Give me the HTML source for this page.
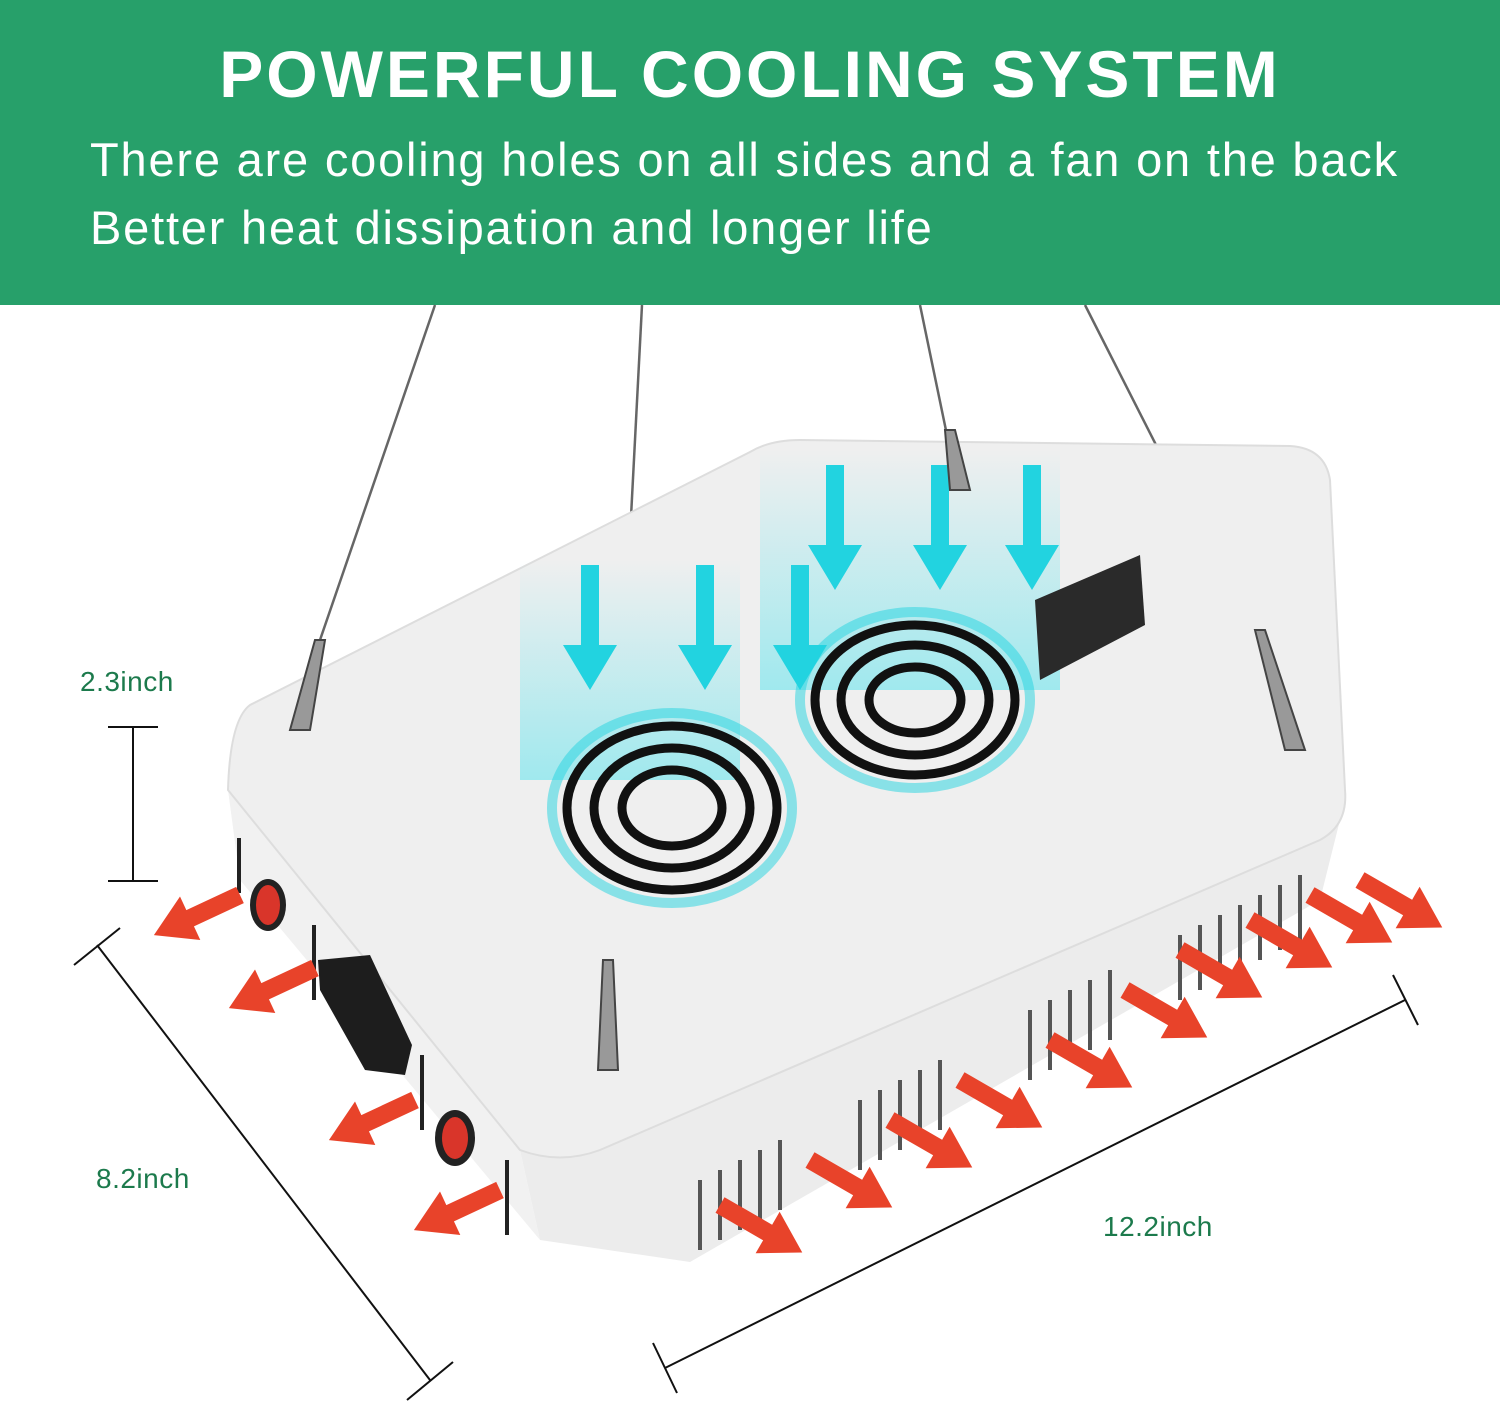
<!DOCTYPE html>
<html><head><meta charset="utf-8"><style>
html,body{margin:0;padding:0;background:#fff;}
body{width:1500px;height:1417px;position:relative;overflow:hidden;font-family:"Liberation Sans","DejaVu Sans",sans-serif;}
.banner{position:absolute;left:0;top:0;width:1500px;height:305px;background:#27a06a;color:#fff;}
.t1{position:absolute;left:0;width:1500px;top:36px;text-align:center;font-weight:bold;font-size:66px;letter-spacing:3px;}
.t2{position:absolute;left:90px;font-size:47px;letter-spacing:1.8px;white-space:nowrap;}
.lbl{position:absolute;color:#1c7a4c;font-size:28px;letter-spacing:0.5px;}
svg{position:absolute;left:0;top:0;}
</style></head><body>
<div class="banner">
<div class="t1">POWERFUL COOLING SYSTEM</div>
<div class="t2" style="top:132px">There are cooling holes on all sides and a fan on the back</div>
<div class="t2" style="top:200px">Better heat dissipation and longer life</div>
</div>
<svg width="1500" height="1417" viewBox="0 0 1500 1417">
<defs>
<g id="ra"><path d="M0,-9 L55,-9 L55,-24 L95,0 L55,24 L55,9 L0,9 Z" fill="#e8432a"/></g>
<g id="ca"><path d="M-9,0 L9,0 L9,80 L27,80 L0,125 L-27,80 L-9,80 Z" fill="#22d3e0"/></g>
<linearGradient id="cg" x1="0" y1="0" x2="0" y2="1"><stop offset="0" stop-color="#7ee6ee" stop-opacity="0"/><stop offset="1" stop-color="#7ee6ee" stop-opacity=".7"/></linearGradient>
</defs>
<g stroke="#666" stroke-width="2.5">
<line x1="435" y1="305" x2="320" y2="640"/>
<line x1="642" y1="305" x2="608" y2="960"/>
<line x1="920" y1="305" x2="948" y2="440"/>
<line x1="1085" y1="305" x2="1255" y2="640"/>
</g>
<path d="M228,790 L520,1150 L540,1240 L240,880 Z" fill="#f1f1f1"/>
<path d="M520,1150 L1345,800 L1320,900 L690,1262 L540,1240 Z" fill="#ececec"/>
<g stroke="#555" stroke-width="4">
<path d="M700,1250 L700,1180 M720,1240 L720,1170 M740,1230 L740,1160 M760,1220 L760,1150 M780,1210 L780,1140 M860,1170 L860,1100 M880,1160 L880,1090 M900,1150 L900,1080 M920,1140 L920,1070 M940,1130 L940,1060 M1030,1080 L1030,1010 M1050,1070 L1050,1000 M1070,1060 L1070,990 M1090,1050 L1090,980 M1110,1040 L1110,970 M1180,1000 L1180,935 M1200,990 L1200,925 M1220,980 L1220,915 M1240,970 L1240,905 M1260,960 L1260,895 M1280,950 L1280,885 M1300,940 L1300,875"/>
</g>
<path d="M250,705 Q230,720 228,790 L520,1150 Q560,1165 600,1150 L1320,840 Q1348,825 1345,790 L1330,480 Q1325,448 1290,446 L800,440 Q770,440 750,452 Z" fill="#efefef" stroke="#ddd" stroke-width="2"/>
<rect x="520" y="560" width="220" height="220" fill="url(#cg)"/>
<rect x="760" y="450" width="300" height="240" fill="url(#cg)"/>
<g fill="none" stroke="#111" stroke-width="9">
<ellipse cx="672" cy="808" rx="105" ry="82"/>
<ellipse cx="672" cy="808" rx="78" ry="60"/>
<ellipse cx="672" cy="808" rx="50" ry="38"/>
<ellipse cx="915" cy="700" rx="100" ry="75"/>
<ellipse cx="915" cy="700" rx="74" ry="55"/>
<ellipse cx="915" cy="700" rx="46" ry="33"/>
</g>
<ellipse cx="672" cy="808" rx="120" ry="95" fill="none" stroke="#22d3e0" stroke-width="10" opacity=".5"/>
<ellipse cx="915" cy="700" rx="115" ry="88" fill="none" stroke="#22d3e0" stroke-width="10" opacity=".5"/>
<path d="M1035,600 L1140,555 L1145,625 L1040,680 Z" fill="#2a2a2a"/>
<use href="#ca" x="590" y="565"/>
<use href="#ca" x="705" y="565"/>
<use href="#ca" x="800" y="565"/>
<use href="#ca" x="835" y="465"/>
<use href="#ca" x="940" y="465"/>
<use href="#ca" x="1032" y="465"/>
<g fill="#999" stroke="#444" stroke-width="2">
<path d="M315,640 l10,0 l-15,90 l-20,0 z"/>
<path d="M603,960 l10,0 l5,110 l-20,0 z"/>
<path d="M945,430 l10,0 l15,60 l-20,0 z"/>
<path d="M1255,630 l10,0 l40,120 l-20,0 z"/>
</g>
<rect x="237" y="838" width="4" height="55" fill="#222"/>
<ellipse cx="268" cy="905" rx="18" ry="26" fill="#222"/><ellipse cx="268" cy="905" rx="12" ry="20" fill="#d9352a"/>
<path d="M318,960 L370,955 L412,1045 L405,1075 L365,1070 L320,990 Z" fill="#1d1d1d"/>
<rect x="312" y="925" width="4" height="75" fill="#222"/>
<rect x="420" y="1055" width="4" height="75" fill="#222"/>
<ellipse cx="455" cy="1138" rx="20" ry="28" fill="#222"/><ellipse cx="455" cy="1138" rx="13" ry="21" fill="#d9352a"/>
<rect x="505" y="1160" width="4" height="75" fill="#222"/>
<use href="#ra" transform="translate(240,895) rotate(155)"/>
<use href="#ra" transform="translate(315,968) rotate(155)"/>
<use href="#ra" transform="translate(415,1100) rotate(155)"/>
<use href="#ra" transform="translate(500,1190) rotate(155)"/>
<g>
<use href="#ra" transform="translate(720,1205) rotate(30)"/>
<use href="#ra" transform="translate(810,1160) rotate(30)"/>
<use href="#ra" transform="translate(890,1120) rotate(30)"/>
<use href="#ra" transform="translate(960,1080) rotate(30)"/>
<use href="#ra" transform="translate(1050,1040) rotate(30)"/>
<use href="#ra" transform="translate(1125,990) rotate(30)"/>
<use href="#ra" transform="translate(1180,950) rotate(30)"/>
<use href="#ra" transform="translate(1250,920) rotate(30)"/>
<use href="#ra" transform="translate(1310,895) rotate(30)"/>
<use href="#ra" transform="translate(1360,880) rotate(30)"/>
</g>
<g stroke="#111" stroke-width="2">
<line x1="133" y1="727" x2="133" y2="881"/>
<line x1="108" y1="727" x2="158" y2="727"/>
<line x1="108" y1="881" x2="158" y2="881"/>
<line x1="97" y1="945" x2="430" y2="1380"/>
<line x1="74" y1="965" x2="120" y2="928"/>
<line x1="407" y1="1400" x2="453" y2="1362"/>
<line x1="665" y1="1368" x2="1405" y2="1000"/>
<line x1="653" y1="1343" x2="677" y2="1393"/>
<line x1="1393" y1="975" x2="1418" y2="1025"/>
</g>
</svg>
<div class="lbl" style="left:80px;top:666px">2.3inch</div>
<div class="lbl" style="left:96px;top:1163px">8.2inch</div>
<div class="lbl" style="left:1103px;top:1211px">12.2inch</div>
</body></html>
